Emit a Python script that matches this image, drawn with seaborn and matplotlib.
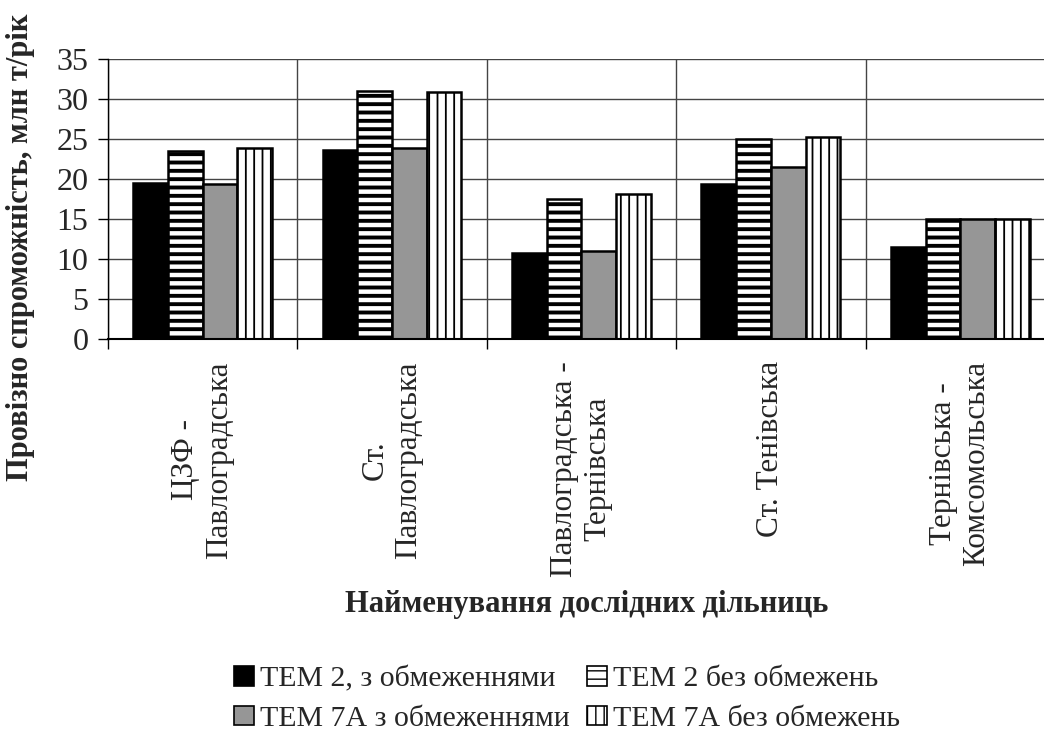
import numpy as np
import pandas as pd
import matplotlib
matplotlib.use("Agg")
import matplotlib.pyplot as plt
from matplotlib.patches import Patch
import seaborn as sns

# data
sections = ["ЦЗФ -\nПавлоградська", "Ст.\nПавлоградська", "Павлоградська -\nТернівська",
            "Ст. Тенівська", "Тернівська -\nКомсомольська"]
series = ["ТЕМ 2, з обмеженнями", "ТЕМ 2 без обмежень",
          "ТЕМ 7А з обмеженнями", "ТЕМ 7А без обмежень"]
tem2_limited = [19.5, 23.6, 10.7, 19.4, 11.5]
tem2_free = [23.5, 31.0, 17.5, 25.0, 15.0]
tem7a_limited = [19.4, 23.9, 11.0, 21.5, 15.0]
tem7a_free = [23.9, 30.9, 18.1, 25.2, 15.0]

df = pd.DataFrame({
    "section": sections * 4,
    "series": np.repeat(series, len(sections)),
    "value": tem2_limited + tem2_free + tem7a_limited + tem7a_free,
})

sns.set_theme(style="white")
plt.rcParams["font.family"] = ["Liberation Serif", "DejaVu Serif"]

faces = ["black", "white", "#969696", "white"]
hatches = [None, "--", None, "||"]
hatch_lw = [1.0, 2.8, 1.0, 1.3]

fig = plt.figure(figsize=(10.44, 7.31), dpi=100)
ax = fig.add_axes([0.1034, 0.5363, 0.9071, 0.3830])

sns.barplot(data=df, x="section", y="value", hue="series", hue_order=series,
            palette=dict(zip(series, faces)), edgecolor="black", linewidth=1.8,
            width=0.733, gap=0, saturation=1, legend=False, ax=ax)

for cont, h, lw in zip(ax.containers, hatches, hatch_lw):
    for p in cont:
        if h:
            p.set_hatch(h)
            if hasattr(p, "set_hatch_linewidth"):
                p.set_hatch_linewidth(lw)

ax.set_ylim(0, 35)
ax.set_yticks(np.arange(0, 36, 5))
ax.set_xlim(-0.5, 4.5)
ax.set_xticks(np.arange(-0.5, 5, 1), minor=True)
ax.set_axisbelow(True)
ax.grid(axis="y", which="major", color="#444444", linewidth=1.0)
ax.grid(axis="x", which="minor", color="#444444", linewidth=1.0)
for s in ["top", "right"]:
    ax.spines[s].set_visible(False)
ax.spines["left"].set_color("black")
ax.spines["bottom"].set_color("black")
ax.spines["left"].set_linewidth(1.0)
ax.spines["bottom"].set_linewidth(1.5)

ax.tick_params(axis="y", which="major", left=True, length=7, width=1.0, color="black",
               labelsize=23, pad=7)
ax.tick_params(axis="x", which="major", bottom=False, length=0, labelsize=22.5, pad=16)
ax.tick_params(axis="x", which="minor", bottom=True, length=7, width=1.0, color="black")
ax.set_xticks(range(len(sections)))
ax.set_xticklabels(sections, rotation=90, ha="center", va="top", multialignment="center")

ax.set_ylabel("Провізно спроможність, млн т/рік", fontsize=22, fontweight="bold")
ax.yaxis.set_label_coords(-0.077, 0.329)
ax.set_xlabel("Найменування дослідних дільниць", fontsize=22, fontweight="bold")
ax.xaxis.set_label_coords(0.505, -0.895)

handles = []
for f, h, lw in zip(faces, hatches, hatch_lw):
    hp = Patch(facecolor=f, edgecolor="black", linewidth=1.2, hatch=h)
    if h and hasattr(hp, "set_hatch_linewidth"):
        hp.set_hatch_linewidth(lw)
    handles.append(hp)
# legend is filled row by row in the reference
order = [0, 2, 1, 3]
fig.legend([handles[i] for i in order], [series[i] for i in order], ncol=2,
           loc="center", bbox_to_anchor=(0.543, 0.044),
           frameon=False, fontsize=21.5, handlelength=0.65, handleheight=0.65,
           handletextpad=0.2, columnspacing=0.6, labelspacing=0.45)

fig.savefig("out.png", dpi=100)
